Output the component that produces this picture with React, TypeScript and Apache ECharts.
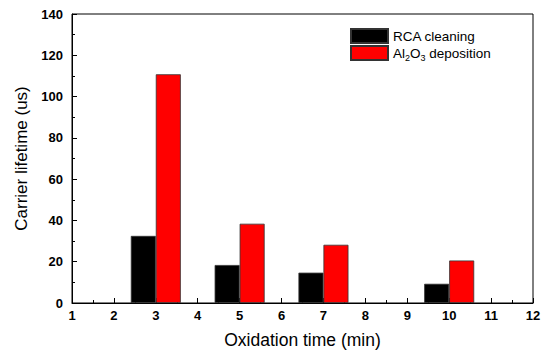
import React, { useEffect, useRef } from "react";
import * as echarts from "echarts";

const oxidationTimes = [3, 5, 7, 10];
const rcaCleaning = [32.5, 18.4, 14.7, 9.3];
const al2o3Deposition = [110.8, 38.4, 28.2, 20.6];
const seriesNames = ["RCA cleaning", "Al2O3 deposition"];

const FONT = "'Liberation Sans', Arial, sans-serif";

export default function App() {
  const ref = useRef<HTMLDivElement>(null);
  useEffect(() => {
    if (!ref.current) return;
    const chart = echarts.init(ref.current, undefined, { renderer: "svg" });
    const barStyle = (color: string) => ({
      color,
      borderColor: "#333",
      borderWidth: 0.8,
    });
    chart.setOption({
      animation: false,
      backgroundColor: "#fff",
      grid: {
        left: 72,
        right: 12,
        top: 14,
        bottom: 48.5,
        show: true,
        borderColor: "#000",
        borderWidth: 1,
        backgroundColor: "transparent",
      },
      legend: {
        show: true,
        left: 345,
        top: 23,
        orient: "vertical",
        itemWidth: 37,
        itemHeight: 14,
        itemGap: 1,
        icon: "rect",
        selectedMode: false,
        textStyle: {
          fontFamily: FONT,
          fontSize: 13.5,
          color: "#000",
          rich: {
            n: { fontFamily: FONT, fontSize: 13.5, color: "#000" },
            sub: { fontFamily: FONT, fontSize: 9, color: "#000", verticalAlign: "bottom", padding: [9, 0, 0, 0] },
          },
        },
        formatter: (name: string) =>
          name === "Al2O3 deposition" ? "{n|Al}{sub|2}{n|O}{sub|3}{n| deposition}" : "{n|" + name + "}",
        data: seriesNames,
      },
      xAxis: {
        type: "value",
        min: 1,
        max: 12,
        interval: 1,
        name: "Oxidation time (min)",
        nameLocation: "middle",
        nameGap: 28,
        nameTextStyle: { fontFamily: FONT, fontSize: 17.5, color: "#000" },
        axisLine: { show: true, lineStyle: { color: "#000", width: 1 } },
        axisTick: { show: true, inside: true, length: 5, lineStyle: { color: "#000" } },
        minorTick: { show: true, splitNumber: 2, length: 3, lineStyle: { color: "#000" } },
        splitLine: { show: false },
        axisLabel: { fontFamily: FONT, fontSize: 13, fontWeight: "bold", color: "#000", margin: 6 },
      },
      yAxis: {
        type: "value",
        min: 0,
        max: 140,
        interval: 20,
        name: "Carrier lifetime (us)",
        nameLocation: "middle",
        nameGap: 42,
        nameTextStyle: { fontFamily: FONT, fontSize: 17, color: "#000" },
        axisLine: { show: true, lineStyle: { color: "#000", width: 1 } },
        axisTick: { show: true, inside: true, length: 5, lineStyle: { color: "#000" } },
        minorTick: { show: true, splitNumber: 2, length: 3, lineStyle: { color: "#000" } },
        splitLine: { show: false },
        axisLabel: { fontFamily: FONT, fontSize: 13, fontWeight: "bold", color: "#000", margin: 9 },
      },
      series: [
        {
          name: seriesNames[0],
          type: "bar",
          barWidth: 25,
          barGap: "0%",
          itemStyle: barStyle("#000000"),
          data: oxidationTimes.map((t, i) => [t, rcaCleaning[i]]),
        },
        {
          name: seriesNames[1],
          type: "bar",
          barWidth: 25,
          barGap: "0%",
          itemStyle: barStyle("#ff0000"),
          data: oxidationTimes.map((t, i) => [t, al2o3Deposition[i]]),
        },
      ],
    });
    return () => chart.dispose();
  }, []);
  return (
    <div
      ref={ref}
      style={{ position: "fixed", left: 0, top: 0, width: 545, height: 354 }}
    />
  );
}
